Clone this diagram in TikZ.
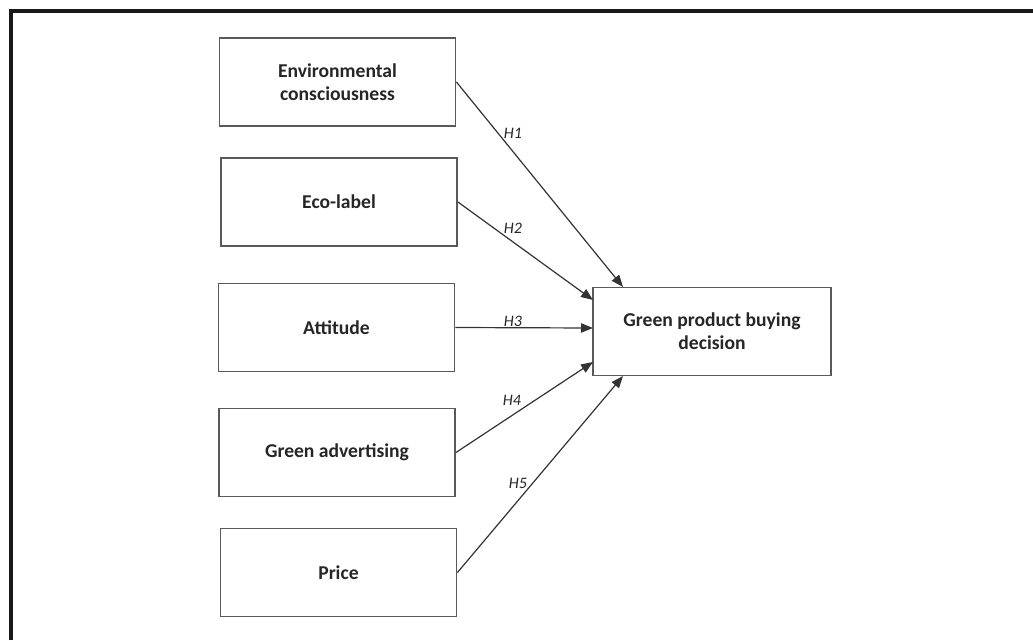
\documentclass[tikz,border=0pt]{standalone}
\usepackage{fontspec}
\setmainfont{Carlito}
\usetikzlibrary{arrows.meta}
\definecolor{boxline}{HTML}{5A5A5A}
\definecolor{arrline}{HTML}{333333}
\definecolor{txt}{HTML}{262626}
\begin{document}
\begin{tikzpicture}[x=0.75pt,y=-0.75pt,
  varbox/.style={draw=boxline,line width=1.4pt,fill=white,minimum width=177pt,minimum height=66pt,
    inner sep=0pt,align=center,font=\fontsize{14.7pt}{17.5pt}\selectfont\bfseries,text=txt},
  hyp/.style={-{Triangle[length=9pt,width=7pt]},draw=arrline,line width=0.9pt},
  hlab/.style={font=\fontsize{12pt}{14pt}\selectfont\itshape,text=txt,inner sep=0pt}]
\useasboundingbox (0,0) rectangle (1033,640);
\draw[line width=2.3pt,black!90] (11,640) -- (11,11) -- (1033,11);
\node[varbox] (ec) at (337.5,82) {Environmental\\consciousness};
\node[varbox] (el) at (339,202) {Eco-label};
\node[varbox] (at) at (336.5,327.5) {Attitude};
\node[varbox] (ga) at (337,452.5) {Green advertising};
\node[varbox] (pr) at (338.5,572.5) {Price};
\node[varbox,minimum width=178pt] (gp) at (712,331.5) {Green product buying\\decision};
\coordinate (t1) at (623,287);
\coordinate (t2) at (593,300);
\coordinate (t3) at (593,328);
\coordinate (t4) at (593,362);
\coordinate (t5) at (623,376);
\draw[hyp] (ec.east) -- (t1);
\draw[hyp] (el.east) -- (t2);
\draw[hyp] (at.east) -- (t3);
\draw[hyp] (ga.east) -- (t4);
\draw[hyp] (pr.east) -- (t5);
\node[hlab] (h1) at (513,133) {H1};
\node[hlab] (h2) at (513,228) {H2};
\node[hlab] (h3) at (513,321) {H3};
\node[hlab] (h4) at (512,400) {H4};
\node[hlab] (h5) at (518,483) {H5};
\end{tikzpicture}
\end{document}
